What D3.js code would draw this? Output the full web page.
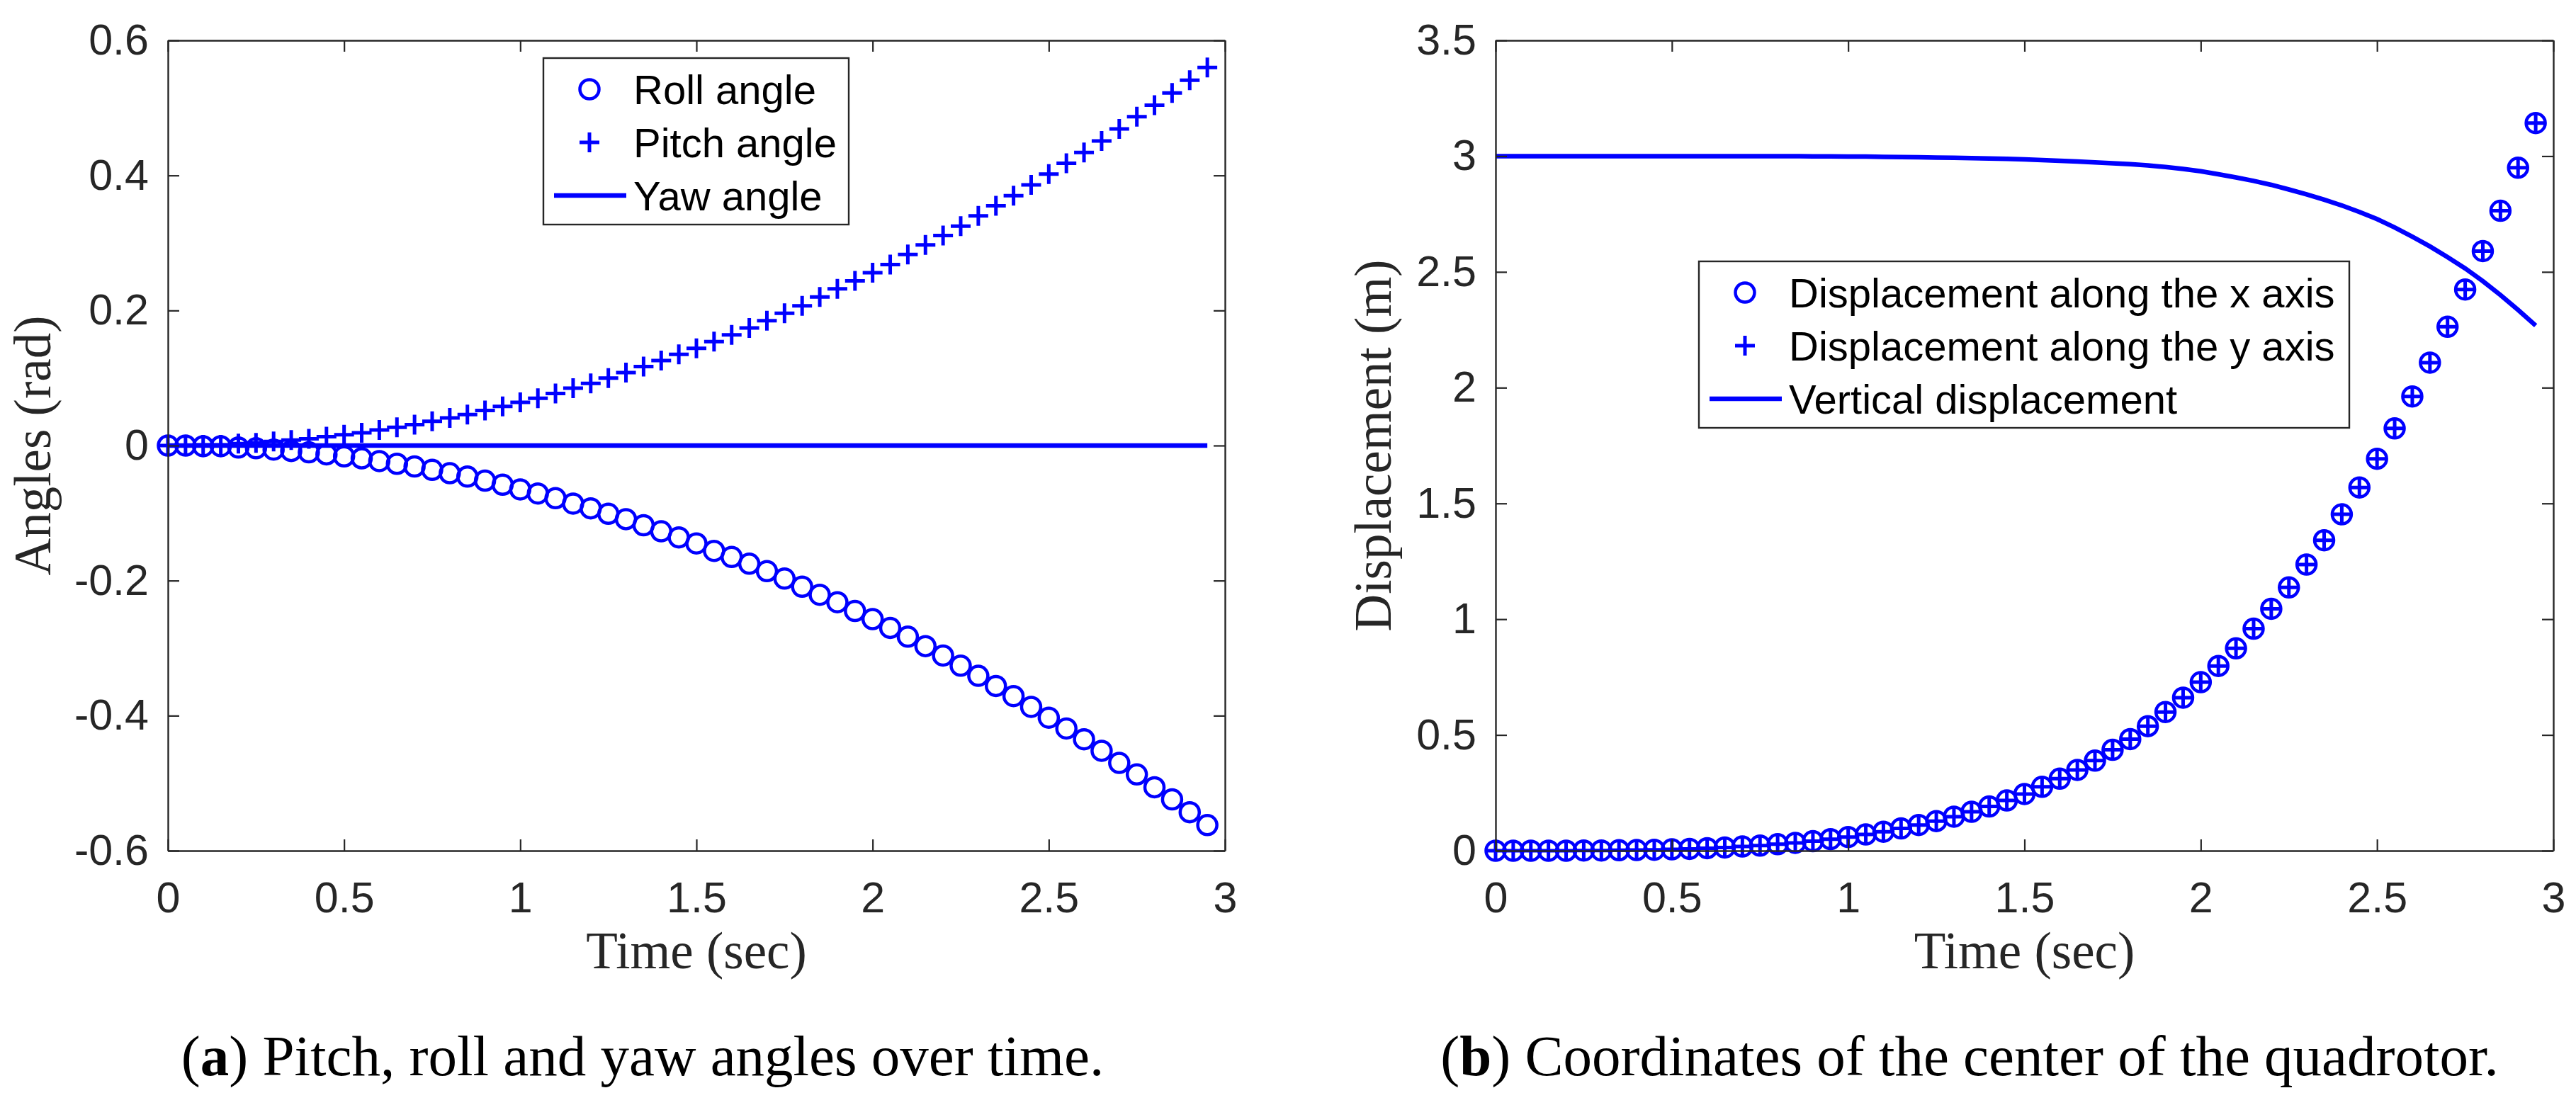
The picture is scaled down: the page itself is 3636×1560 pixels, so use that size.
<!DOCTYPE html>
<html>
<head>
<meta charset="utf-8">
<script src="https://cdn.jsdelivr.net/npm/d3@7"></script>
<style>
    body { margin: 0; background: #fff; }
    .tick text { font-family: "Liberation Sans", Arial, sans-serif; font-size: 61px; fill: #262626; }
    .domain, .tick line { stroke: #262626; }
</style>
</head>
<body>
<svg id="chart" width="3636" height="1560"></svg>
<script>
// sample times (sec), shared by both panels
var time = [
    0, 0.05, 0.1, 0.15, 0.2, 0.25, 0.3, 0.35, 0.4, 0.45,
    0.5, 0.55, 0.6, 0.65, 0.7, 0.75, 0.8, 0.85, 0.9, 0.95,
    1, 1.05, 1.1, 1.15, 1.2, 1.25, 1.3, 1.35, 1.4, 1.45,
    1.5, 1.55, 1.6, 1.65, 1.7, 1.75, 1.8, 1.85, 1.9, 1.95,
    2, 2.05, 2.1, 2.15, 2.2, 2.25, 2.3, 2.35, 2.4, 2.45,
    2.5, 2.55, 2.6, 2.65, 2.7, 2.75, 2.8, 2.85, 2.9, 2.95
];

// panel (a): angles in rad
var rollAngle = [
    0.000, 0.000, -0.001, -0.001, -0.003, -0.004, -0.006, -0.008, -0.010, -0.013,
    -0.016, -0.019, -0.023, -0.027, -0.031, -0.036, -0.041, -0.046, -0.052, -0.058,
    -0.065, -0.071, -0.078, -0.086, -0.093, -0.101, -0.109, -0.118, -0.127, -0.136,
    -0.145, -0.156, -0.165, -0.175, -0.186, -0.197, -0.209, -0.221, -0.232, -0.245,
    -0.257, -0.270, -0.283, -0.297, -0.311, -0.326, -0.341, -0.356, -0.371, -0.387,
    -0.403, -0.419, -0.435, -0.452, -0.470, -0.487, -0.506, -0.524, -0.543, -0.562
];
var pitchAngle = [
    0.000, 0.000, 0.001, 0.001, 0.003, 0.004, 0.006, 0.008, 0.010, 0.013,
    0.016, 0.019, 0.023, 0.027, 0.031, 0.036, 0.041, 0.046, 0.052, 0.058,
    0.064, 0.070, 0.077, 0.085, 0.092, 0.100, 0.108, 0.117, 0.126, 0.135,
    0.144, 0.154, 0.164, 0.174, 0.185, 0.196, 0.207, 0.220, 0.232, 0.244,
    0.256, 0.268, 0.283, 0.297, 0.311, 0.325, 0.340, 0.355, 0.370, 0.386,
    0.402, 0.418, 0.434, 0.451, 0.469, 0.487, 0.504, 0.522, 0.541, 0.560
];
var yawAngle = [
    0, 0, 0, 0, 0, 0, 0, 0, 0, 0,
    0, 0, 0, 0, 0, 0, 0, 0, 0, 0,
    0, 0, 0, 0, 0, 0, 0, 0, 0, 0,
    0, 0, 0, 0, 0, 0, 0, 0, 0, 0,
    0, 0, 0, 0, 0, 0, 0, 0, 0, 0,
    0, 0, 0, 0, 0, 0, 0, 0, 0, 0
];

// panel (b): displacement in m
var dispX = [
    0.000, 0.000, 0.000, 0.000, 0.000, 0.001, 0.001, 0.002, 0.003, 0.004,
    0.006, 0.008, 0.011, 0.014, 0.018, 0.022, 0.028, 0.034, 0.041, 0.050,
    0.059, 0.070, 0.082, 0.096, 0.111, 0.128, 0.147, 0.168, 0.191, 0.217,
    0.245, 0.276, 0.311, 0.349, 0.389, 0.436, 0.482, 0.538, 0.599, 0.661,
    0.728, 0.798, 0.874, 0.959, 1.045, 1.137, 1.236, 1.341, 1.453, 1.569,
    1.693, 1.824, 1.962, 2.108, 2.263, 2.424, 2.590, 2.764, 2.950, 3.143
];
var dispY = [
    0.000, 0.000, 0.000, 0.000, 0.000, 0.001, 0.001, 0.002, 0.003, 0.004,
    0.006, 0.008, 0.011, 0.014, 0.018, 0.022, 0.028, 0.034, 0.041, 0.050,
    0.059, 0.070, 0.082, 0.096, 0.111, 0.128, 0.147, 0.168, 0.191, 0.217,
    0.245, 0.276, 0.311, 0.349, 0.389, 0.436, 0.482, 0.538, 0.599, 0.661,
    0.728, 0.798, 0.874, 0.959, 1.045, 1.137, 1.236, 1.341, 1.453, 1.569,
    1.693, 1.824, 1.962, 2.108, 2.263, 2.424, 2.590, 2.764, 2.950, 3.143
];
var dispVertical = [
    3.000, 3.000, 3.000, 3.000, 3.000, 3.000, 3.000, 3.000, 3.000, 3.000,
    3.000, 3.000, 3.000, 3.000, 3.000, 3.000, 3.000, 3.000, 2.999, 2.999,
    2.998, 2.998, 2.997, 2.996, 2.995, 2.994, 2.993, 2.991, 2.990, 2.988,
    2.986, 2.983, 2.980, 2.977, 2.973, 2.969, 2.965, 2.960, 2.953, 2.945,
    2.935, 2.922, 2.908, 2.893, 2.876, 2.856, 2.835, 2.812, 2.787, 2.759,
    2.728, 2.692, 2.652, 2.610, 2.564, 2.515, 2.460, 2.400, 2.336, 2.268
];

// axes ticks
var timeTicks = [0, 0.5, 1, 1.5, 2, 2.5, 3];
var angleTicks = [-0.6, -0.4, -0.2, 0, 0.2, 0.4, 0.6];
var dispTicks = [0, 0.5, 1, 1.5, 2, 2.5, 3, 3.5];

var BLUE = '#0000FF';
var AXIS = '#262626';
var TICK = 16;
var top_ = 57, bottom_ = 1201;

var svg = d3.select('#chart');
svg.append('rect').attr('width', 3636).attr('height', 1560).attr('fill', '#fff');

function circleMarks(g, x, y, values) {
    g.append('g').selectAll('circle')
        .data(values)
        .enter()
        .append('circle')
        .attr('cx', function(d, i) { return x(time[i]); })
        .attr('cy', function(d) { return y(d); })
        .attr('r', 13.5)
        .attr('fill', 'none')
        .attr('stroke', BLUE)
        .attr('stroke-width', 4.5);
}

function plusMarks(g, x, y, values) {
    g.append('g').selectAll('path')
        .data(values)
        .enter()
        .append('path')
        .attr('transform', function(d, i) { return 'translate(' + x(time[i]) + ',' + y(d) + ')'; })
        .attr('d', 'M-14,0H14M0,-14V14')
        .attr('stroke', BLUE)
        .attr('stroke-width', 5)
        .attr('fill', 'none');
}

function lineMark(g, x, y, values) {
    var line = d3.line()
        .x(function(d, i) { return x(time[i]); })
        .y(function(d) { return y(d); });
    g.append('path')
        .datum(values)
        .attr('d', line)
        .attr('fill', 'none')
        .attr('stroke', BLUE)
        .attr('stroke-width', 6.5);
}

function buildAxes(g, x, y, yTicks) {
    var x0 = x.range()[0], x1 = x.range()[1];
    var fmt = function(d) { return String(d); };

    g.append('g')
        .attr('transform', 'translate(0,' + bottom_ + ')')
        .call(d3.axisBottom(x).tickValues(timeTicks).tickFormat(fmt)
            .tickSizeInner(-TICK).tickSizeOuter(0).tickPadding(44));
    g.append('g')
        .attr('transform', 'translate(0,' + top_ + ')')
        .call(d3.axisTop(x).tickValues(timeTicks).tickFormat('')
            .tickSizeInner(-TICK).tickSizeOuter(0));
    g.append('g')
        .attr('transform', 'translate(' + x0 + ',0)')
        .call(d3.axisLeft(y).tickValues(yTicks).tickFormat(fmt)
            .tickSizeInner(-TICK).tickSizeOuter(0).tickPadding(27));
    g.append('g')
        .attr('transform', 'translate(' + x1 + ',0)')
        .call(d3.axisRight(y).tickValues(yTicks).tickFormat('')
            .tickSizeInner(-TICK).tickSizeOuter(0));

    g.selectAll('.domain').attr('stroke-width', 2.4);
    g.selectAll('.tick line').attr('stroke-width', 2.2);
}

function buildLegend(g, left, top, width, items) {
    var rowY = [44, 119, 194];
    g.append('rect')
        .attr('x', left).attr('y', top)
        .attr('width', width).attr('height', 235)
        .attr('fill', '#fff')
        .attr('stroke', AXIS)
        .attr('stroke-width', 2.4);

    items.forEach(function(item, i) {
        var cy = top + rowY[i];
        if (item.kind === 'circle') {
            g.append('circle').attr('cx', left + 65).attr('cy', cy).attr('r', 13.5)
                .attr('fill', 'none').attr('stroke', BLUE).attr('stroke-width', 4.5);
        } else if (item.kind === 'plus') {
            g.append('path').attr('transform', 'translate(' + (left + 65) + ',' + cy + ')')
                .attr('d', 'M-14,0H14M0,-14V14')
                .attr('stroke', BLUE).attr('stroke-width', 5);
        } else {
            g.append('line').attr('x1', left + 15).attr('x2', left + 117)
                .attr('y1', cy).attr('y2', cy)
                .attr('stroke', BLUE).attr('stroke-width', 6.5);
        }
        g.append('text')
            .attr('x', left + 127)
            .attr('y', cy + 21)
            .attr('font-family', '"Liberation Sans", Arial, sans-serif')
            .attr('font-size', 58)
            .attr('fill', '#000')
            .text(item.label);
    });
}

function axisLabels(g, x, labelX, yLabel) {
    var serif = '"Liberation Serif", "Times New Roman", serif';
    g.append('text')
        .attr('x', (x.range()[0] + x.range()[1]) / 2)
        .attr('y', 1367)
        .attr('text-anchor', 'middle')
        .attr('font-family', serif)
        .attr('font-size', 73)
        .attr('fill', AXIS)
        .text('Time (sec)');
    g.append('text')
        .attr('transform', 'translate(' + labelX + ',' + (top_ + bottom_) / 2 + ') rotate(-90)')
        .attr('text-anchor', 'middle')
        .attr('font-family', serif)
        .attr('font-size', 73)
        .attr('fill', AXIS)
        .text(yLabel);
}

function caption(cx, letter, rest) {
    var t = svg.append('text')
        .attr('x', cx)
        .attr('y', 1518)
        .attr('text-anchor', 'middle')
        .attr('font-family', '"Liberation Serif", "Times New Roman", serif')
        .attr('font-size', 81)
        .attr('fill', '#000');
    t.append('tspan').text('(');
    t.append('tspan').attr('font-weight', 'bold').text(letter);
    t.append('tspan').text(') ' + rest);
}

// ---- panel (a)
var xa = d3.scaleLinear().domain([0, 3]).range([237, 1729]);
var ya = d3.scaleLinear().domain([-0.6, 0.6]).range([bottom_, top_]);
var ga = svg.append('g');
circleMarks(ga, xa, ya, rollAngle);
plusMarks(ga, xa, ya, pitchAngle);
lineMark(ga, xa, ya, yawAngle);
buildAxes(ga, xa, ya, angleTicks);
buildLegend(ga, 767, 82, 431, [
    { kind: 'circle', label: 'Roll angle' },
    { kind: 'plus', label: 'Pitch angle' },
    { kind: 'line', label: 'Yaw angle' }
]);
axisLabels(ga, xa, 71, 'Angles (rad)');

// ---- panel (b)
var xb = d3.scaleLinear().domain([0, 3]).range([2111, 3604]);
var yb = d3.scaleLinear().domain([0, 3.5]).range([bottom_, top_]);
var gb = svg.append('g');
circleMarks(gb, xb, yb, dispX);
plusMarks(gb, xb, yb, dispY);
lineMark(gb, xb, yb, dispVertical);
buildAxes(gb, xb, yb, dispTicks);
buildLegend(gb, 2398, 369, 918, [
    { kind: 'circle', label: 'Displacement along the x axis' },
    { kind: 'plus', label: 'Displacement along the y axis' },
    { kind: 'line', label: 'Vertical displacement' }
]);
axisLabels(gb, xb, 1963, 'Displacement (m)');

caption(907, 'a', 'Pitch, roll and yaw angles over time.');
caption(2780, 'b', 'Coordinates of the center of the quadrotor.');
</script>
</body>
</html>
